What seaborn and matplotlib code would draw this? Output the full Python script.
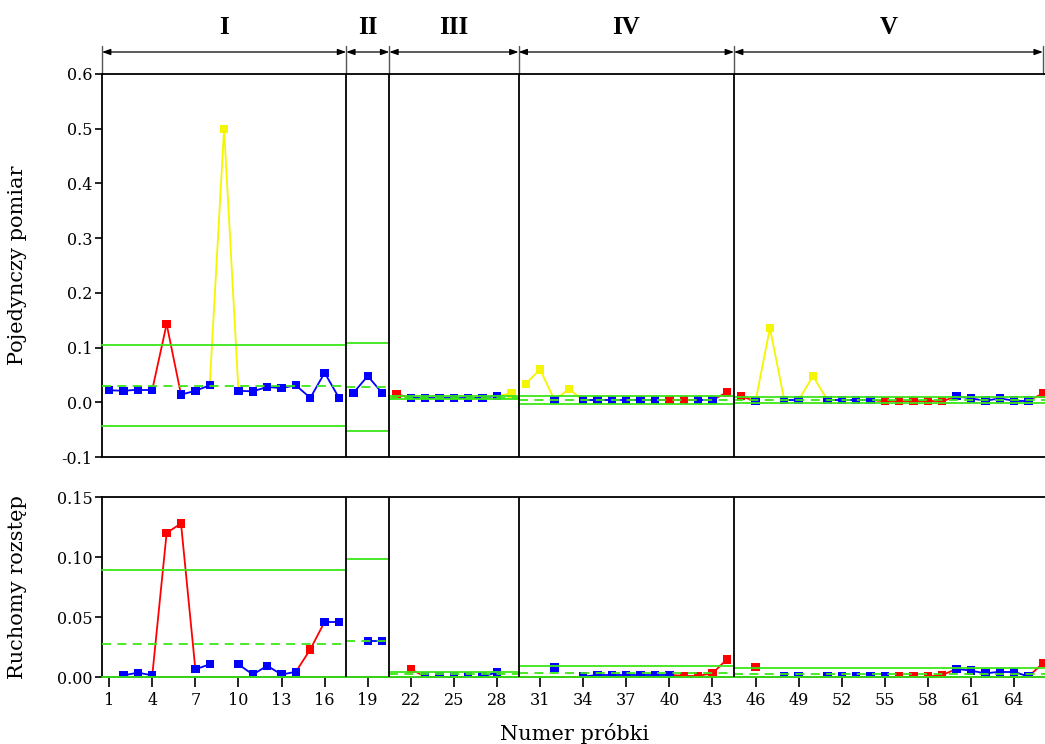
import numpy as np
import pandas as pd
import matplotlib
matplotlib.use("Agg")
import matplotlib.pyplot as plt
import seaborn as sns
from matplotlib.transforms import blended_transform_factory

# ---------------- data ----------------
group_names = ["I", "II", "III", "IV", "V"]
group_sizes = [17, 3, 9, 15, 22]

# single measurements (sample 1..66)
single_I = [0.022, 0.021, 0.023, 0.023, 0.143, 0.014, 0.021, 0.031, 0.500, 0.021,
            0.020, 0.028, 0.026, 0.031, 0.008, 0.054, 0.008]
single_II = [0.017, 0.048, 0.017]
single_III = [0.015, 0.008, 0.008, 0.008, 0.008, 0.008, 0.008, 0.012, 0.016]
single_IV = [0.034, 0.060, 0.004, 0.024, 0.004, 0.004, 0.004, 0.004, 0.004, 0.004,
             0.004, 0.004, 0.004, 0.004, 0.018]
single_V = [0.011, 0.002, 0.136, 0.004, 0.004, 0.048, 0.004, 0.004, 0.004, 0.004,
            0.002, 0.002, 0.002, 0.002, 0.002, 0.011, 0.007, 0.003, 0.007, 0.003,
            0.003, 0.016]
single_flags = ("bbbbrbbbybbbbbbbb" + "bbb" + "rbbbbbbby" + "yybybbbbbbrrbbr"
                + "rbybbybbbbrrrrrbbbbbbr")

nan = np.nan
mr_I = [nan, 0.0014, 0.0036, 0.0014, 0.120, 0.128, 0.0064, 0.0106, nan, 0.0106,
        0.002, 0.0094, 0.002, 0.0044, 0.023, 0.046, 0.046]
mr_II = [nan, 0.030, 0.030]
mr_III = [nan, 0.0064, 0.0003, 0.0003, 0.0003, 0.0003, 0.0003, 0.004, nan]
mr_IV = [nan, nan, 0.008, nan, 0.0003, 0.0017, 0.0017, 0.0017, 0.0017, 0.0017,
         0.0017, 0.001, 0.001, 0.003, 0.0147]
mr_V = [nan, 0.0086, nan, 0.0003, 0.0003, nan, 0.0003, 0.0003, 0.0003, 0.0003,
        0.0003, 0.0003, 0.0003, 0.0003, 0.0017, 0.0067, 0.0053, 0.003, 0.0044, 0.0044,
        0.0003, 0.0114]
mr_flags = ("bbbbrrbbbbbbbbrbb" + "bbb" + "brbbbbbbb" + "bbbbbbbbbbbrrrr"
            + "brbbbbbbbbbrrrrbbbbbbr")

ucl_single = [0.104, 0.108, 0.0115, 0.011, 0.010]
cl_single = [0.0305, 0.028, 0.0085, 0.004, 0.004]
lcl_single = [-0.043, -0.052, 0.0055, -0.003, -0.001]

ucl_mr = [0.089, 0.098, 0.0044, 0.0092, 0.0072]
cl_mr = [0.0275, 0.030, 0.0025, 0.003, 0.0025]
lcl_mr = [0.0, 0.0, 0.0, 0.0, 0.0]

tick_values = list(range(1, 65, 3))

# ---------------- styling ----------------
sns.set_style("ticks")
plt.rcParams["font.family"] = ["DejaVu Serif"]
plt.rcParams["axes.unicode_minus"] = False
plt.rcParams["text.color"] = "black"

palette = {"b": "#0000ff", "r": "#ff0000", "y": "#f5f500"}
green = "#3be619"

samples = np.arange(1, sum(group_sizes) + 1)
group_id = np.repeat(np.arange(len(group_sizes)), group_sizes)
bounds = np.concatenate([[0.5], np.cumsum(group_sizes) + 0.5])

single = np.array(single_I + single_II + single_III + single_IV + single_V)
mr = np.array(mr_I + mr_II + mr_III + mr_IV + mr_V)

fig = plt.figure(figsize=(10.45, 7.44), dpi=100)
W, H = 1045, 744
left, right = 102, 1050
ax1 = fig.add_axes([left / W, 1 - 457 / H, (right - left) / W, (457 - 74) / H])
ax2 = fig.add_axes([left / W, 1 - 677 / H, (right - left) / W, (677 - 497) / H])


def draw_panel(ax, values, flags, ucl, cl, lcl):
    # segments inside each group
    rows = []
    seg = 0
    for i in range(len(values) - 1):
        if group_id[i] != group_id[i + 1]:
            continue
        if np.isnan(values[i]) or np.isnan(values[i + 1]):
            continue
        c = flags[i + 1] if flags[i + 1] != "b" else flags[i]
        rows.append((samples[i], values[i], seg, c))
        rows.append((samples[i + 1], values[i + 1], seg, c))
        seg += 1
    segs = pd.DataFrame(rows, columns=["x", "y", "seg", "c"])
    sns.lineplot(data=segs, x="x", y="y", hue="c", units="seg", estimator=None,
                 palette=palette, legend=False, sort=False, lw=1.3, ax=ax, zorder=2)
    pts = pd.DataFrame({"x": samples, "y": values, "c": list(flags)}).dropna()
    sns.scatterplot(data=pts, x="x", y="y", hue="c", palette=palette, marker="s",
                    s=36, linewidth=0, legend=False, ax=ax, zorder=3)
    for g in range(len(group_sizes)):
        x0, x1 = bounds[g], bounds[g + 1]
        ax.plot([x0, x1], [ucl[g], ucl[g]], color=green, lw=1.3, zorder=4,
                clip_on=False)
        ax.plot([x0, x1], [cl[g], cl[g]], color=green, lw=1.3, zorder=4,
                ls=(0, (5, 3.5)))
        ax.plot([x0, x1], [lcl[g], lcl[g]], color=green, lw=1.3, zorder=4,
                clip_on=False)
    for b in bounds[1:-1]:
        ax.axvline(b, color="black", lw=1.3, zorder=5)
    ax.set_xlim(0.5, 66.5)
    ax.set_xlabel("")
    ax.set_ylabel("")
    for s in ax.spines.values():
        s.set_linewidth(1.3)
        s.set_color("black")
    ax.tick_params(axis="y", direction="out", length=5, width=1.2, pad=2,
                   labelsize=11.5, colors="black")


draw_panel(ax1, single, single_flags, ucl_single, cl_single, lcl_single)
draw_panel(ax2, mr, mr_flags, ucl_mr, cl_mr, lcl_mr)

ax1.set_ylim(-0.1, 0.6)
ax1.set_yticks(np.arange(-0.1, 0.61, 0.1))
ax1.set_yticklabels([f"{v:.1f}" for v in np.arange(-0.1, 0.61, 0.1)])
ax1.set_xticks([])

ax2.set_ylim(0, 0.15)
ax2.set_yticks([0, 0.05, 0.10, 0.15])
ax2.set_yticklabels(["0.00", "0.05", "0.10", "0.15"])
ax2.set_xticks(tick_values)
ax2.set_xticklabels([str(t) for t in tick_values])
ax2.tick_params(axis="x", direction="out", length=7, width=1.2, pad=4,
                labelsize=11.5, colors="black")

# group annotation above the top panel
trans = blended_transform_factory(ax1.transData, ax1.transAxes)
arrow_ends = bounds.copy()
arrow_ends[-1] = samples[-1]
ya = 1 + (74 - 52) / (457 - 74)
yt = 1 + (74 - 46) / (457 - 74)
yl = 1 + (74 - 27) / (457 - 74)
for b in arrow_ends:
    ax1.plot([b, b], [1.0, yt], transform=trans, color="#555555", lw=1.0,
             clip_on=False)
for g, name in enumerate(group_names):
    x0, x1 = arrow_ends[g], arrow_ends[g + 1]
    ax1.annotate("", xy=(x1, ya), xytext=(x0, ya), xycoords=trans,
                 textcoords=trans, annotation_clip=False,
                 arrowprops=dict(arrowstyle="<|-|>,head_length=0.5,head_width=0.18",
                                 color="black", lw=0.9, shrinkA=0, shrinkB=0,
                                 mutation_scale=10))
    ax1.text((x0 + x1) / 2, yl, name, transform=trans, ha="center", va="center",
             fontsize=18, fontweight="bold", family="Liberation Serif",
             color="black")

fig.text(18 / W, 1 - 265 / H, "Pojedynczy pomiar", rotation=90, ha="center",
         va="center", fontsize=15, color="black")
fig.text(18 / W, 1 - 587 / H, "Ruchomy rozstęp", rotation=90, ha="center",
         va="center", fontsize=15, color="black")
fig.text(575 / W, 1 - 733 / H, "Numer próbki", ha="center", va="center",
         fontsize=15, color="black")

fig.savefig("out.png", dpi=100)
